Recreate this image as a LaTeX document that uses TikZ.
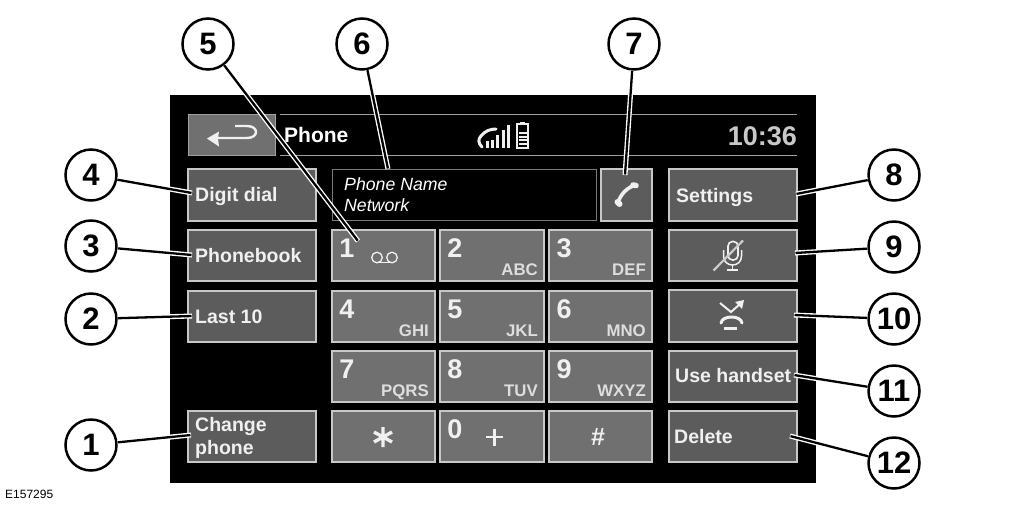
\documentclass[tikz,border=0pt]{standalone}
\usepackage{fontspec}
\setmainfont{Liberation Sans}
\definecolor{btn}{HTML}{5C5C5C}
\definecolor{key}{HTML}{707070}
\definecolor{edge}{HTML}{C8C8C8}
\definecolor{txt}{HTML}{F0F0F0}
\tikzset{
 x=1pt,y=-1pt,
 callout/.style={circle,draw=black,fill=white,line width=2.5pt,minimum size=51pt,inner sep=0pt,font=\fontsize{31}{31}\selectfont\bfseries,text=black},
 lead/.style={white,line width=5pt},
 leadc/.style={black,line width=2.3pt},
 btnbox/.style={fill=btn,draw=edge,line width=1.2pt},
 keybox/.style={fill=key,draw=edge,line width=1.2pt},
 lbl/.style={font=\fontsize{19.5}{23}\selectfont\bfseries,text=txt,anchor=west,inner sep=0pt,align=left},
 dig/.style={font=\fontsize{27}{27}\selectfont\bfseries,text=txt,anchor=center,inner sep=0pt},
 let/.style={font=\fontsize{16.8}{17}\selectfont\bfseries,text=txt!92!black,anchor=base east,inner sep=0pt},
 icon/.style={draw=txt,line cap=round,line join=round},
}
\newcommand{\keycap}[7]{% name x1 y1 x2 y2 digit letters
 \draw[keybox] (#2,#3) rectangle (#4,#5);
 \node[dig] (#1d) at (#2+15,#3+18) {#6};
 \node[let] (#1l) at (#4-6,#5-5.5) {#7};
}
\begin{document}
\begin{tikzpicture}
\useasboundingbox (0,0) rectangle (1024,504);
\fill[white] (0,0) rectangle (1024,504);
\fill[black] (170,95) rectangle (816,483);
% header
\draw[edge!80!black,line width=0.9pt] (280,114.5) -- (797,114.5) (280,155) -- (797,155);
\draw[fill=key,draw=edge!80!black,line width=1pt] (188,114.5) rectangle (275,155);
\draw[txt,line width=2.4pt] (235,126) -- (247,126) .. controls (259,126) and (259,138) .. (247,138) -- (216,138);
\fill[txt] (207,138.5) -- (219,131.5) -- (218,138.5) -- (219,146.5) -- cycle;
\node[lbl,text=white,font=\fontsize{21}{22}\selectfont\bfseries] (title) at (284,134.5) {Phone};
\node[lbl,anchor=east,text=edge,font=\fontsize{27}{27}\selectfont\bfseries] (clock) at (797,136) {10:36};
% signal
\draw[icon,line width=3pt] (482,147) .. controls (478,143) and (478,139) .. (481,136) .. controls (485,131) and (490,129) .. (496,129);
\foreach \xx/\yy in {486/141,491/140,496/135,502/130,507/125}{\fill[txt] (\xx,148) rectangle (\xx+3.2,\yy);}
\draw[txt,line width=1.6pt] (517,124) rectangle (528,148);
\fill[txt] (520,122) rectangle (525,124);
\foreach \yy in {132,135.5,139,142.5}{\fill[txt] (518.5,\yy) rectangle (526.5,\yy+2.2);}
% left column
\draw[btnbox] (188,169) rectangle (316,221);
\draw[btnbox] (188,230) rectangle (316,281);
\draw[btnbox] (188,291) rectangle (316,342);
\draw[btnbox] (188,411) rectangle (316,462);
\node[lbl] (ld) at (195,196.5) {Digit dial};
\node[lbl] (lp) at (195,256) {Phonebook};
\node[lbl] (ll) at (195,317) {Last 10};
\node[lbl] (lc) at (195,437.5) {Change\\phone};
% display
\draw[fill=black,draw=edge!60!black,line width=1pt] (332,169.5) rectangle (596,220);
\node[lbl,font=\fontsize{17.7}{21}\selectfont\itshape,text=white] (name) at (344,194.5) {Phone Name\\Network};
% call
\draw[btnbox] (601,169) rectangle (652,221);
\draw[txt,line width=3.6pt,line cap=round] (618,203) .. controls (620,195) and (627,187) .. (636,185);
\draw[txt,line width=6pt,line cap=round] (617.5,202) -- (619.5,204);
\draw[txt,line width=5.5pt,line cap=round] (633,185) -- (636,185.5);
% keypad
\keycap{a}{332}{230}{435}{281}{1}{}
\keycap{b}{440}{230}{544}{281}{2}{ABC}
\keycap{c}{549}{230}{652}{281}{3}{DEF}
\keycap{d}{332}{291}{435}{342}{4}{GHI}
\keycap{e}{440}{291}{544}{342}{5}{JKL}
\keycap{f}{549}{291}{652}{342}{6}{MNO}
\keycap{g}{332}{351}{435}{402}{7}{PQRS}
\keycap{h}{440}{351}{544}{402}{8}{TUV}
\keycap{i}{549}{351}{652}{402}{9}{WXYZ}
\keycap{k}{440}{411}{544}{462}{0}{}
\draw[keybox] (332,411) rectangle (435,462);
\draw[keybox] (549,411) rectangle (652,462);
\draw[txt,line width=1.3pt] (377,257.5) circle[radius=5.3] (392,257.5) circle[radius=5.3];
\draw[txt,line width=1.3pt] (377,262.8) -- (392,262.8);
\draw[txt,line width=3.4pt] (383,427) -- (383,447) (374,432) -- (392,442) (374,442) -- (392,432);
\draw[txt,line width=2.8pt] (486,437) -- (503,437) (494.5,428.5) -- (494.5,446);
\node[inner sep=0pt,font=\fontsize{25}{25}\selectfont\bfseries,text=txt] (hash) at (598,437) {\#};
% right column
\draw[btnbox] (669,169) rectangle (797,221);
\draw[btnbox] (669,230) rectangle (797,281);
\draw[btnbox] (669,290) rectangle (797,342);
\draw[btnbox] (669,351) rectangle (797,402);
\draw[btnbox] (669,411) rectangle (797,462);
\node[lbl] (ls) at (676,197) {Settings};
\node[lbl] (lu) at (675,376) {Use handset};
\node[lbl] (lx) at (674,436.5) {Delete};
% mute icon
\draw[txt,line width=1.6pt,rounded corners=4.5pt] (728,241.5) rectangle (738,260);
\draw[txt,line width=1.5pt] (723.5,250) -- (723.5,256) .. controls (723.5,268) and (741.5,268) .. (741.5,256) -- (741.5,250);
\draw[txt,line width=1.5pt] (732.5,265) -- (732.5,269.5) (727,270) -- (738,270);
\draw[txt!85!black,line width=2.2pt] (713.5,270.5) -- (743,240.5);
% hang up icon
\draw[txt,line width=2pt] (720,303) -- (731,312) -- (740,304);
\fill[txt] (744,300) -- (742,309) -- (735,302) -- cycle;
\draw[txt,line width=3pt,line cap=round] (721,323) .. controls (722,315) and (741,315) .. (742,323);
\draw[txt,line width=2.6pt] (724,328.5) -- (737,328.5);
% callouts
\node[callout] (c5) at (208,44) {5};
\node[callout] (c6) at (362,44) {6};
\node[callout] (c7) at (634,44) {7};
\node[callout] (c4) at (91,175) {4};
\node[callout] (c3) at (91,246) {3};
\node[callout] (c2) at (91,319) {2};
\node[callout] (c1) at (91,445) {1};
\node[callout] (c8) at (894,175) {8};
\node[callout] (c9) at (894,247) {9};
\node[callout] (c10) at (894,319) {10};
\node[callout] (c11) at (894,391) {11};
\node[callout] (c12) at (894,463) {12};
\coordinate (e5) at (358,241);
\coordinate (e6) at (388,169);
\coordinate (e7) at (625,175);
\coordinate (e4) at (192,193);
\coordinate (e3) at (192,255);
\coordinate (e2) at (192,316);
\coordinate (e1) at (191,435);
\coordinate (e8) at (796,194);
\coordinate (e9) at (795,253);
\coordinate (e10) at (794,315);
\coordinate (e11) at (794,375);
\coordinate (e12) at (790,436);
\foreach \n in {1,...,12}{
 \draw[lead] (c\n) -- (e\n);
}
\foreach \n in {1,...,12}{
 \draw[leadc,shorten >=0.5pt] (c\n) -- (e\n);
}
\node[inner sep=0pt,anchor=west,font=\fontsize{12}{12}\selectfont,text=black] (code) at (5,494) {E157295};
\end{tikzpicture}
\end{document}
